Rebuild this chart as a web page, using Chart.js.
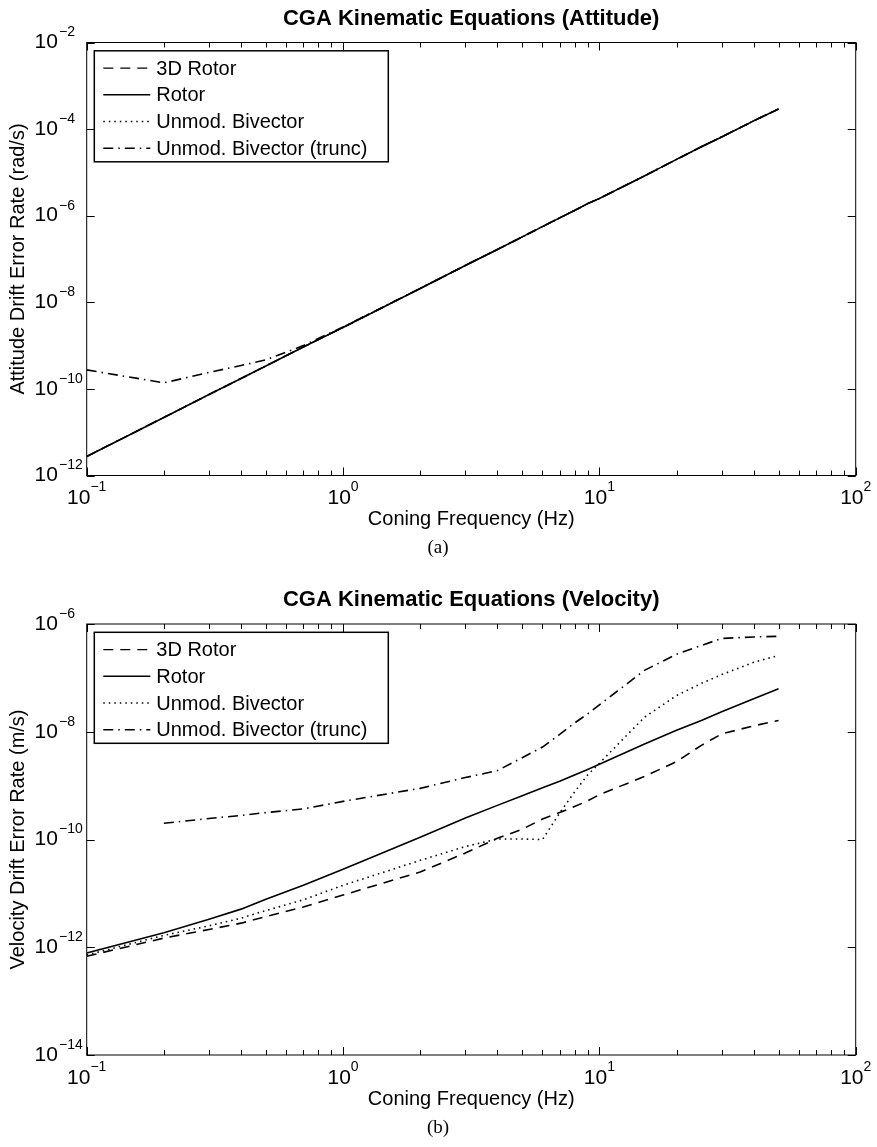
<!DOCTYPE html>
<html>
<head>
<meta charset="utf-8">
<script src="https://cdn.jsdelivr.net/npm/chart.js@4.4.1/dist/chart.umd.min.js"></script>
<style>
  html, body { margin: 0; padding: 0; background: #fff; }
  .panel { position: absolute; left: 0; }
  #panelA { top: 0; }
  #panelB { top: 570px; }
</style>
</head>
<body>
<div class="panel" id="panelA"><canvas id="chartA" width="877" height="570"></canvas></div>
<div class="panel" id="panelB"><canvas id="chartB" width="877" height="577"></canvas></div>
<script>
// coning frequencies (Hz)
const freq = [0.1, 0.2, 0.3, 0.4, 0.5, 0.7, 1, 2, 3, 4, 5, 6, 7, 8, 9, 10, 15, 20, 25, 30, 40, 50];
const seriesNames = ['3D Rotor', 'Rotor', 'Unmod. Bivector', 'Unmod. Bivector (trunc)'];

// (a) attitude drift error rate (rad/s)
const att3DRotor  = [2.75e-12, 2.19e-11, 7.4e-11, 1.74e-10, 3.39e-10, 9.3e-10, 2.63e-9, 2.09e-8, 7.1e-8, 1.66e-7, 3.24e-7, 5.6e-7, 8.9e-7, 1.32e-6, 1.9e-6, 2.5e-6, 8.3e-6, 2.0e-5, 3.9e-5, 6.6e-5, 1.55e-4, 2.9e-4];
const attRotor    = [2.75e-12, 2.19e-11, 7.4e-11, 1.74e-10, 3.39e-10, 9.3e-10, 2.63e-9, 2.09e-8, 7.1e-8, 1.66e-7, 3.24e-7, 5.6e-7, 8.9e-7, 1.32e-6, 1.9e-6, 2.5e-6, 8.3e-6, 2.0e-5, 3.9e-5, 6.6e-5, 1.55e-4, 2.9e-4];
const attBivector = [2.75e-12, 2.19e-11, 7.4e-11, 1.74e-10, 3.39e-10, 9.3e-10, 2.63e-9, 2.09e-8, 7.1e-8, 1.66e-7, 3.24e-7, 5.6e-7, 8.9e-7, 1.32e-6, 1.9e-6, 2.5e-6, 8.3e-6, 2.0e-5, 3.9e-5, 6.6e-5, 1.55e-4, 2.9e-4];
const attTrunc    = [2.75e-10, 1.38e-10, 2.4e-10, 3.47e-10, 4.68e-10, 1.0e-9, 2.69e-9, 2.09e-8, 7.1e-8, 1.66e-7, 3.24e-7, 5.6e-7, 8.9e-7, 1.32e-6, 1.9e-6, 2.5e-6, 8.3e-6, 2.0e-5, 3.9e-5, 6.6e-5, 1.55e-4, 2.9e-4];

// (b) velocity drift error rate (m/s)
const vel3DRotor  = [6.8e-13, 1.48e-12, 2.14e-12, 2.8e-12, 3.7e-12, 5.6e-12, 9.3e-12, 2.5e-11, 5.6e-11, 1.05e-10, 1.55e-10, 2.4e-10, 3.16e-10, 4.1e-10, 5.2e-10, 6.8e-10, 1.48e-9, 2.8e-9, 5.6e-9, 9.1e-9, 1.29e-8, 1.62e-8];
const velRotor    = [7.8e-13, 1.86e-12, 3.3e-12, 5.1e-12, 7.8e-12, 1.41e-11, 2.8e-11, 1.1e-10, 2.5e-10, 4.3e-10, 6.5e-10, 9.1e-10, 1.2e-9, 1.58e-9, 2.0e-9, 2.5e-9, 5.9e-9, 1.07e-8, 1.62e-8, 2.34e-8, 4.1e-8, 6.3e-8];
const velBivector = [7.2e-13, 1.66e-12, 2.5e-12, 3.47e-12, 4.8e-12, 7.6e-12, 1.41e-11, 4.1e-11, 7.4e-11, 1.02e-10, 1.02e-10, 1.0e-10, 3.1e-10, 7.6e-10, 1.58e-9, 2.6e-9, 1.86e-8, 4.7e-8, 7.9e-8, 1.15e-7, 1.95e-7, 2.6e-7];
const velTrunc    = [null, 2.0e-10, 2.45e-10, 2.8e-10, 3.16e-10, 3.7e-10, 5.1e-10, 8.9e-10, 1.41e-9, 1.9e-9, 3.3e-9, 5.2e-9, 8.9e-9, 1.45e-8, 2.14e-8, 3.16e-8, 1.38e-7, 2.75e-7, 4.0e-7, 5.4e-7, 5.75e-7, 5.9e-7];

// axis ticks
const xMajorTicks = [0.1, 1, 10, 100];
const xMajorExp = ['\u22121', '0', '1', '2'];
const attYTicks = [1e-12, 1e-10, 1e-8, 1e-6, 1e-4, 1e-2];
const attYExp = ['\u221212', '\u221210', '\u22128', '\u22126', '\u22124', '\u22122'];
const velYTicks = [1e-14, 1e-12, 1e-10, 1e-8, 1e-6];
const velYExp = ['\u221214', '\u221212', '\u221210', '\u22128', '\u22126'];

const lineDashes = [[10, 7], [], [1.5, 4], [10, 5, 1.5, 5]];
const SANS = '"Liberation Sans", Arial, Helvetica, sans-serif';

function toPoints(vals) {
  const pts = [];
  vals.forEach((v, i) => { if (v !== null) pts.push({ x: freq[i], y: v }); });
  return pts;
}

function makeDatasets(list) {
  return list.map((vals, i) => ({
    label: seriesNames[i],
    data: toPoints(vals),
    borderColor: '#000',
    borderWidth: 1.6,
    borderDash: lineDashes[i],
    borderCapStyle: 'butt',
    pointRadius: 0,
    fill: false,
    tension: 0
  }));
}

// draws the MATLAB-style box, inward ticks, labels and legend
const matlabAxes = {
  id: 'matlabAxes',
  afterDraw(chart, args, o) {
    const { ctx, chartArea: a, scales: { x, y } } = chart;
    ctx.save();
    ctx.fillStyle = '#000';
    ctx.strokeStyle = '#000';
    ctx.setLineDash([]);

    // box
    ctx.lineWidth = 1;
    ctx.strokeRect(a.left, a.top, a.right - a.left, a.bottom - a.top);

    // x ticks (major + minor) on bottom and top
    ctx.beginPath();
    xMajorTicks.forEach(v => {
      const px = Math.round(x.getPixelForValue(v)) + 0.5;
      ctx.moveTo(px, a.bottom); ctx.lineTo(px, a.bottom - 8);
      ctx.moveTo(px, a.top); ctx.lineTo(px, a.top + 8);
    });
    [0.1, 1, 10].forEach(d => {
      for (let m = 2; m <= 9; m++) {
        const px = Math.round(x.getPixelForValue(d * m)) + 0.5;
        ctx.moveTo(px, a.bottom); ctx.lineTo(px, a.bottom - 5);
        ctx.moveTo(px, a.top); ctx.lineTo(px, a.top + 5);
      }
    });
    // y ticks left and right
    o.yTicks.forEach(v => {
      const py = Math.round(y.getPixelForValue(v)) + 0.5;
      ctx.moveTo(a.left, py); ctx.lineTo(a.left + 8, py);
      ctx.moveTo(a.right, py); ctx.lineTo(a.right - 8, py);
    });
    ctx.stroke();

    // tick labels 10^n
    const baseFont = '21px ' + SANS, expFont = '14px ' + SANS;
    ctx.textBaseline = 'middle';
    xMajorTicks.forEach((v, i) => {
      const px = x.getPixelForValue(v);
      ctx.font = baseFont; const w1 = ctx.measureText('10').width;
      ctx.font = expFont; const w2 = ctx.measureText(xMajorExp[i]).width;
      const x0 = px - (w1 + w2) / 2;
      ctx.textAlign = 'left';
      ctx.font = baseFont; ctx.fillText('10', x0, a.bottom + 23);
      ctx.font = expFont; ctx.fillText(xMajorExp[i], x0 + w1, a.bottom + 12);
    });
    // y labels: the "10" bases line up, exponents hang to the right
    ctx.font = expFont;
    const expW = Math.max(...o.yExp.map(s => ctx.measureText(s).width));
    const baseRight = a.left - 5 - expW;
    o.yTicks.forEach((v, i) => {
      const py = y.getPixelForValue(v);
      ctx.textAlign = 'left';
      ctx.font = expFont; ctx.fillText(o.yExp[i], baseRight + 1, py - 10);
      ctx.textAlign = 'right';
      ctx.font = baseFont; ctx.fillText('10', baseRight, py);
    });

    // title
    const cx = (a.left + a.right) / 2;
    ctx.textAlign = 'center';
    ctx.font = 'bold 22px ' + SANS;
    ctx.fillText(o.title, cx, a.top - 24);
    // x axis title
    ctx.font = '20px ' + SANS;
    ctx.fillText('Coning Frequency (Hz)', cx, a.bottom + 44);
    // y axis title
    ctx.save();
    ctx.translate(18, (a.top + a.bottom) / 2);
    ctx.rotate(-Math.PI / 2);
    ctx.fillText(o.yTitle, 0, 0);
    ctx.restore();
    // caption
    ctx.font = '19px "Liberation Serif", "Times New Roman", serif';
    ctx.fillText(o.caption, 438, a.bottom + 73);

    // legend inside top-left
    const lx = a.left + 7.6, ly = a.top + 8.3, lw = 294, lh = 111;
    ctx.fillStyle = '#fff';
    ctx.fillRect(lx, ly, lw, lh);
    ctx.lineWidth = 1.5;
    ctx.strokeRect(lx, ly, lw, lh);
    ctx.fillStyle = '#000';
    ctx.font = '20px ' + SANS;
    ctx.textAlign = 'left';
    chart.data.datasets.forEach((ds, i) => {
      const ry = ly + 17.3 + i * 26.7;
      ctx.beginPath();
      ctx.lineWidth = 1.4;
      ctx.setLineDash(ds.borderDash);
      ctx.moveTo(lx + 9, ry); ctx.lineTo(lx + 56, ry);
      ctx.stroke();
      ctx.setLineDash([]);
      ctx.fillText(ds.label, lx + 62, ry + 1);
    });
    ctx.restore();
  }
};

function makeChart(id, lists, yMin, yMax, pad, opts) {
  return new Chart(document.getElementById(id), {
    type: 'line',
    data: { datasets: makeDatasets(lists) },
    options: {
      responsive: false,
      animation: false,
      devicePixelRatio: 1,
      layout: { padding: pad },
      scales: {
        x: { type: 'logarithmic', min: 0.1, max: 100, display: false },
        y: { type: 'logarithmic', min: yMin, max: yMax, display: false }
      },
      plugins: {
        legend: { display: false },
        tooltip: { enabled: false },
        matlabAxes: opts
      }
    },
    plugins: [matlabAxes]
  });
}

makeChart('chartA', [att3DRotor, attRotor, attBivector, attTrunc], 1e-12, 1e-2,
  { left: 86.7, top: 42.5, right: 21.3, bottom: 94.5 },
  { title: 'CGA Kinematic Equations (Attitude)', yTitle: 'Attitude Drift Error Rate (rad/s)',
    caption: '(a)', yTicks: attYTicks, yExp: attYExp });

makeChart('chartB', [vel3DRotor, velRotor, velBivector, velTrunc], 1e-14, 1e-6,
  { left: 86.7, top: 54, right: 21.3, bottom: 92 },
  { title: 'CGA Kinematic Equations (Velocity)', yTitle: 'Velocity Drift Error Rate (m/s)',
    caption: '(b)', yTicks: velYTicks, yExp: velYExp });
</script>
</body>
</html>
